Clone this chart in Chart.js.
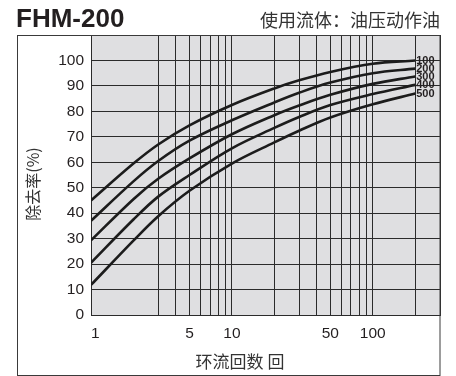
<!DOCTYPE html>
<html>
<head>
<meta charset="utf-8">
<script src="https://cdn.jsdelivr.net/npm/chart.js@4.4.0/dist/chart.umd.min.js"></script>
<style>
  html, body { margin: 0; padding: 0; background: #fff; }
  canvas { display: block; }
</style>
</head>
<body>
<canvas id="filterChart" width="456" height="376"></canvas>
<script>
// 环流回数 (log scale) and 除去率 per curve
const passes = [1, 2, 3, 5, 10, 20, 30, 50, 100, 200];
const curve100 = [45, 59.5, 67, 74.5, 82.5, 89, 92.2, 95.5, 98.7, 100];
const curve200 = [37, 52.5, 60.5, 68.5, 76.5, 83.5, 87.3, 91.3, 95, 96.8];
const curve300 = [29.3, 45.5, 53.5, 61.5, 71, 78.5, 82.3, 86.5, 90.8, 93.7];
const curve400 = [20.5, 37.5, 46.5, 55, 65.5, 73.5, 77.8, 82.5, 86.8, 90.4];
const curve500 = [11.8, 29.2, 38.8, 48.8, 59.5, 67.8, 72.4, 77.6, 82.8, 87];
const curveLabels = ['100', '200', '300', '400', '500'];

const gridPasses = [1, 3, 4, 5, 6, 7, 8, 9, 10, 20, 30, 40, 50, 60, 70, 80, 90, 100, 200, 300];
const xTickLabels = [1, 5, 10, 50, 100];
const yMax = 110;
const yLabelMax = 100;

const chartTitle = 'FHM-200';
const chartNote = '使用流体：油压动作油';
const xTitle = '环流回数 回';
const yTitle = '除去率(%)';

const ink = '#231f20';
const latin = '"Liberation Sans", Arial, sans-serif';
const cjk = '"Noto Sans CJK SC", "Noto Sans", sans-serif';

const allCurves = [curve100, curve200, curve300, curve400, curve500];

const datasets = allCurves.map((vals, i) => ({
  label: curveLabels[i],
  data: passes.map((x, j) => ({ x: x, y: vals[j] })),
  borderColor: '#1c1c1c',
  borderWidth: 2.6,
  pointRadius: 0,
  fill: false,
  tension: 0.35
}));

// 背景、枠線、文字
const decorPlugin = {
  id: 'decor',
  beforeDraw(chart) {
    const { ctx, chartArea } = chart;
    ctx.save();
    ctx.fillStyle = '#fff';
    ctx.fillRect(0, 0, chart.width, chart.height);
    ctx.fillStyle = '#dfdfe1';
    ctx.fillRect(chartArea.left, chartArea.top, chartArea.right - chartArea.left, chartArea.bottom - chartArea.top);
    ctx.restore();
  },
  afterDatasetsDraw(chart) {
    const ctx = chart.ctx;
    ctx.save();
    ctx.font = 'bold 11px ' + latin;
    ctx.fillStyle = ink;
    ctx.textAlign = 'left';
    ctx.textBaseline = 'middle';
    chart.data.datasets.forEach((ds, i) => {
      const pts = chart.getDatasetMeta(i).data;
      const last = pts[pts.length - 1];
      ctx.fillText(ds.label, last.x + 1, last.y + 0.5);
    });
    ctx.restore();
  },
  afterDraw(chart) {
    const ctx = chart.ctx;
    const area = chart.chartArea;
    ctx.save();
    ctx.strokeStyle = '#3a3a3a';
    ctx.lineWidth = 1;
    ctx.strokeRect(17.5, area.top + 0.5, area.right - 17.5, 375 - area.top);

    ctx.fillStyle = ink;
    ctx.font = 'bold 26px ' + latin;
    ctx.textAlign = 'left';
    ctx.textBaseline = 'alphabetic';
    ctx.fillText(chartTitle, 16, 27);

    ctx.fillStyle = '#333';
    ctx.font = '18px ' + cjk;
    ctx.textAlign = 'right';
    ctx.textBaseline = 'middle';
    ctx.fillText(chartNote, 440, 20);

    ctx.font = '17px ' + cjk;
    ctx.textAlign = 'center';
    ctx.fillText(xTitle, 240, 362);

    ctx.translate(33, 184);
    ctx.rotate(-Math.PI / 2);
    ctx.font = '16px ' + cjk;
    ctx.fillText(yTitle, 0, 0);
    ctx.restore();
  }
};

new Chart(document.getElementById('filterChart'), {
  type: 'line',
  data: { datasets: datasets },
  options: {
    responsive: false,
    animation: false,
    layout: { padding: { left: 17, right: 16, top: 35, bottom: 0 } },
    plugins: { legend: { display: false }, tooltip: { enabled: false } },
    scales: {
      x: {
        type: 'logarithmic',
        min: 1,
        max: 300,
        afterBuildTicks: (s) => { s.ticks = gridPasses.map(v => ({ value: v })); },
        afterFit: (s) => { s.height = 61; },
        ticks: {
          autoSkip: false,
          maxRotation: 0,
          align: 'inner',
          padding: 9,
          color: ink,
          font: { family: latin, size: 15.5 },
          callback: (v) => xTickLabels.includes(v) ? String(v) : ''
        },
        grid: { color: '#2b2b2b', lineWidth: 1, drawTicks: false },
        border: { color: '#2b2b2b' }
      },
      y: {
        min: 0,
        max: yMax,
        afterFit: (s) => { s.width = 74; },
        ticks: {
          stepSize: 10,
          padding: 7,
          color: ink,
          font: { family: latin, size: 15.5 },
          callback: (v) => v <= yLabelMax ? String(v) : ''
        },
        grid: { color: '#2b2b2b', lineWidth: 1, drawTicks: false },
        border: { color: '#2b2b2b' }
      }
    }
  },
  plugins: [decorPlugin]
});
</script>
</body>
</html>
